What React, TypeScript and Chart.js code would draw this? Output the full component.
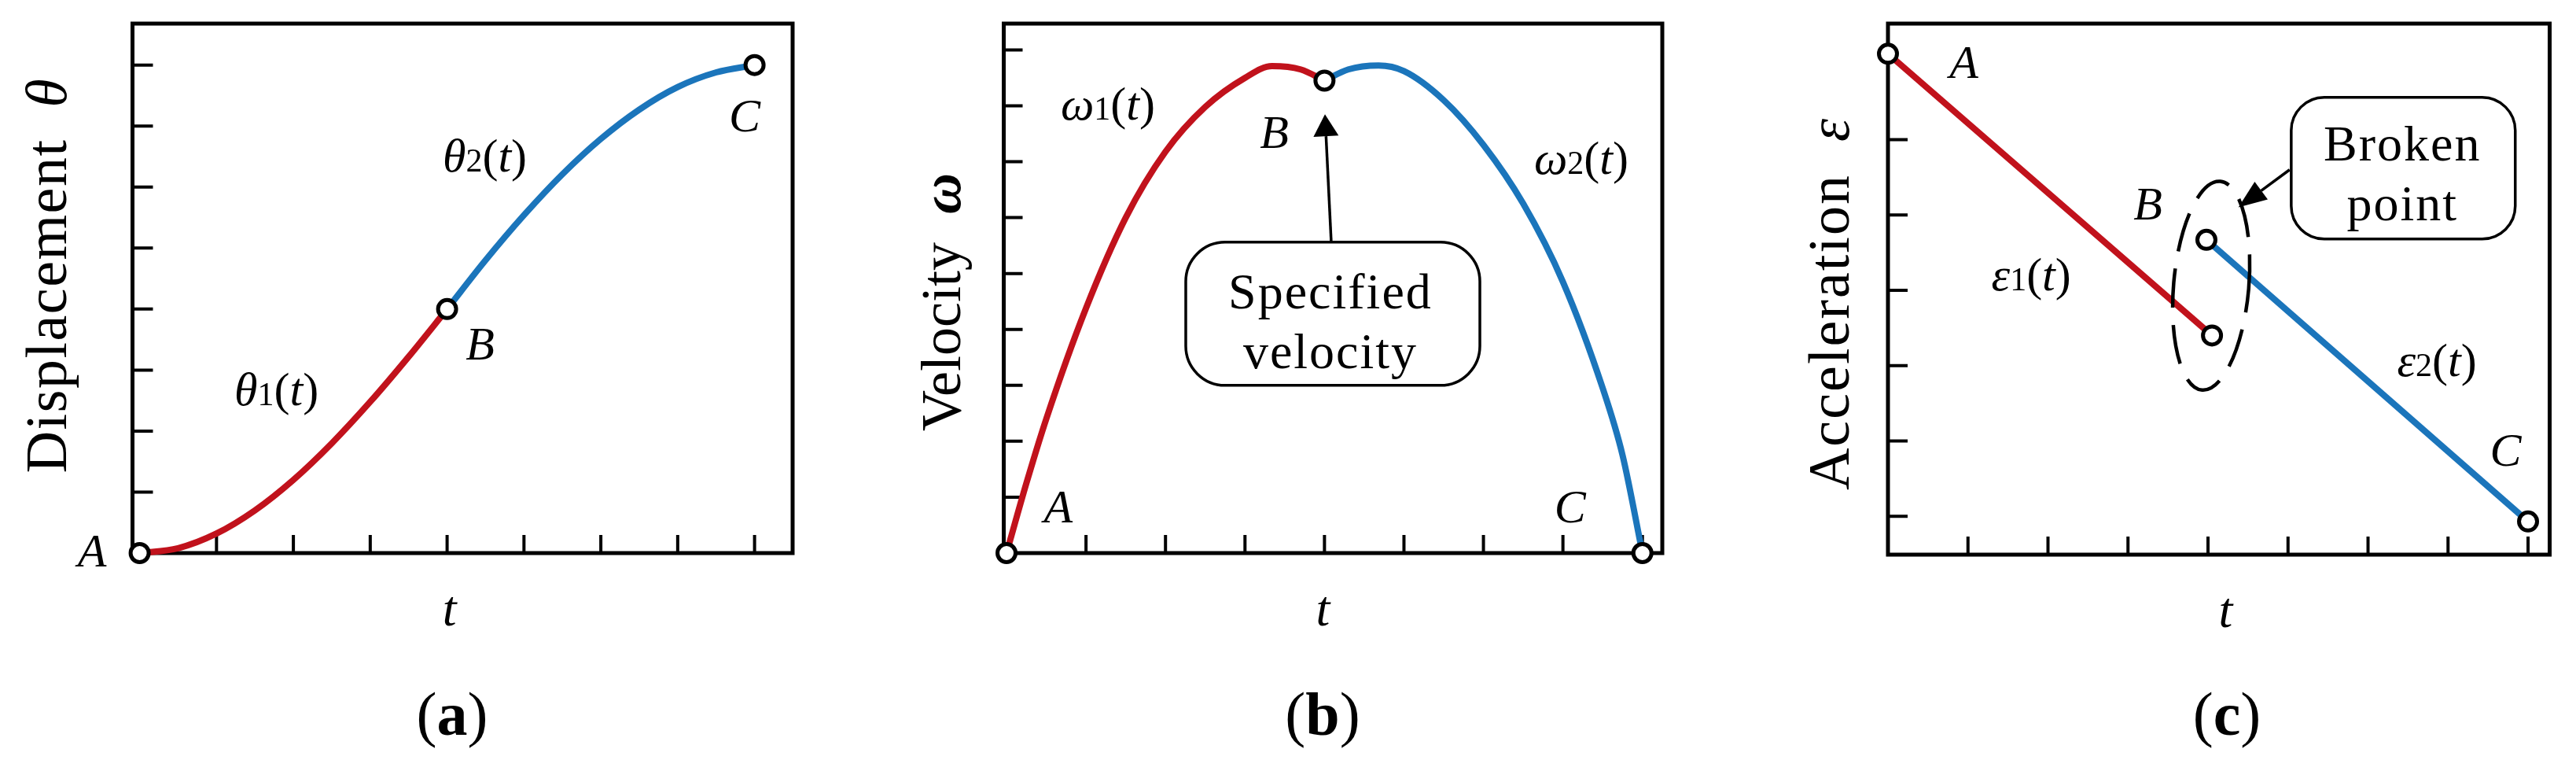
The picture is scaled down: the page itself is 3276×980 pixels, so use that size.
import React, { useEffect, useRef } from 'react';
import { Chart, registerables } from 'chart.js';

Chart.register(...registerables);

const SERIF = '"Liberation Serif", "Times New Roman", serif';
const RED = '#C1121C';
const BLUE = '#1B75BB';

// ---------- Panel (a): displacement ----------
const dispT1 = [0, 0.5, 1, 1.5, 2, 2.5, 3, 3.5, 4];
const dispTheta1 = [0, 0.08, 0.32, 0.7, 1.2, 1.8, 2.48, 3.22, 4];
const dispT2 = [4, 4.5, 5, 5.5, 6, 6.5, 7, 7.5, 8];
const dispTheta2 = [4, 4.8, 5.54, 6.21, 6.79, 7.27, 7.64, 7.88, 8];
const dispKeyT = [0, 4, 8];
const dispKeyV = [0, 4, 8];
const dispTicksX = [1, 2, 3, 4, 5, 6, 7, 8];
const dispTicksY = [1, 2, 3, 4, 5, 6, 7, 8];

// ---------- Panel (b): velocity ----------
const velT1 = [0, 0.25, 0.5, 1, 1.5, 2, 2.5, 3, 3.34, 3.7, 4];
const velW1 = [0, 1.25, 2.4, 4.38, 6.0, 7.18, 7.98, 8.5, 8.71, 8.65, 8.45];
const velT2 = [4, 4.3, 4.68, 5, 5.5, 6, 6.5, 7, 7.5, 7.75, 8];
const velW2 = [8.45, 8.65, 8.72, 8.62, 8.1, 7.3, 6.25, 4.85, 2.95, 1.75, 0];
const velKeyT = [0, 4, 8];
const velKeyV = [0, 8.45, 0];
const velTicksX = [1, 2, 3, 4, 5, 6, 7, 8];
const velTicksY = [1, 2, 3, 4, 5, 6, 7, 8, 9];

// ---------- Panel (c): acceleration ----------
const accT1 = [0, 4.05];
const accE1 = [7.14, 3.4];
const accT2 = [3.98, 8];
const accE2 = [4.67, 0.93];
const accKeyT = [0, 3.98, 4.05, 8];
const accKeyV = [7.14, 4.67, 3.4, 0.93];
const accTicksX = [1, 2, 3, 4, 5, 6, 7, 8];
const accTicksY = [1, 2, 3, 4, 5, 6];

type Part = { s: string; f: string };
const it = (px: number) => `italic ${px}px ${SERIF}`;
const rg = (px: number) => `${px}px ${SERIF}`;
const bd = (px: number) => `bold ${px}px ${SERIF}`;
const bi = (px: number) => `bold italic ${px}px ${SERIF}`;

const LBL = 60;
const SUB = 42;
const fnLabel = (g: string, n: string): Part[] => [
  { s: g, f: it(LBL) },
  { s: n, f: rg(SUB) },
  { s: '(', f: rg(LBL) },
  { s: 't', f: it(LBL) },
  { s: ')', f: rg(LBL) },
];
const letter = (c: string): Part[] => [{ s: c, f: it(LBL) }];

function drawParts(ctx: CanvasRenderingContext2D, parts: Part[], x: number, baseline: number, ls = 0) {
  (ctx as any).letterSpacing = `${ls}px`;
  const widths = parts.map((p) => {
    ctx.font = p.f;
    return ctx.measureText(p.s).width;
  });
  const total = widths.reduce((a, b) => a + b, 0);
  let cx = x - total / 2;
  ctx.textAlign = 'left';
  ctx.textBaseline = 'alphabetic';
  parts.forEach((p, i) => {
    ctx.font = p.f;
    ctx.fillText(p.s, cx, baseline);
    cx += widths[i];
  });
  (ctx as any).letterSpacing = '0px';
}

type Label = { parts: Part[]; x: number; y: number; dy: number };
type Callout = {
  x0: number; x1: number; y0: number; y1: number; r: number;
  cx: number; lines: { s: string; y: number }[];
  from: [number, number]; to: [number, number]; headLen: number; headW: number;
};
type Spec = {
  ticksX: number[]; ticksY: number[]; tickLenX: number; tickLenY: number;
  labels: Label[];
  title: { parts: Part[]; x: number; y: number; ls: number };
  tLabelX: number;
  letterX: number; letter: string;
  callout?: Callout;
  ellipse?: { cx: number; cy: number; rx: number; ry: number; rot: number };
};

function decor(spec: Spec) {
  return {
    id: 'decor',
    beforeDatasetsDraw(chart: any) {
      const { ctx, chartArea: ca, scales } = chart;
      const x = scales.x, y = scales.y;
      ctx.save();
      ctx.strokeStyle = '#000';
      ctx.lineWidth = 4;
      ctx.beginPath();
      spec.ticksX.forEach((v) => {
        const px = x.getPixelForValue(v);
        ctx.moveTo(px, ca.bottom);
        ctx.lineTo(px, ca.bottom - spec.tickLenX);
      });
      spec.ticksY.forEach((v) => {
        const py = y.getPixelForValue(v);
        ctx.moveTo(ca.left, py);
        ctx.lineTo(ca.left + spec.tickLenY, py);
      });
      ctx.stroke();
      ctx.lineWidth = 5;
      ctx.strokeRect(ca.left, ca.top, ca.right - ca.left, ca.bottom - ca.top);
      ctx.restore();
    },
    afterDatasetsDraw(chart: any) {
      const { ctx, chartArea: ca, scales } = chart;
      const x = scales.x, y = scales.y;
      ctx.save();
      ctx.fillStyle = '#000';
      ctx.strokeStyle = '#000';
      spec.labels.forEach((l) => {
        drawParts(ctx, l.parts, x.getPixelForValue(l.x), y.getPixelForValue(l.y) + l.dy);
      });
      // x axis title
      drawParts(ctx, [{ s: 't', f: it(64) }], x.getPixelForValue(spec.tLabelX), ca.bottom + 92);
      // panel letter
      drawParts(ctx, [{ s: '(', f: rg(78) }, { s: spec.letter, f: bd(78) }, { s: ')', f: rg(78) }], spec.letterX, 934);
      // y axis title (rotated)
      ctx.save();
      ctx.translate(spec.title.x, spec.title.y);
      ctx.rotate(-Math.PI / 2);
      drawParts(ctx, spec.title.parts, 0, 0, spec.title.ls);
      ctx.restore();

      if (spec.ellipse) {
        const e = spec.ellipse;
        const cx = x.getPixelForValue(e.cx), cy = y.getPixelForValue(e.cy);
        const rx = Math.abs(x.getPixelForValue(e.cx + e.rx) - cx);
        const ry = Math.abs(y.getPixelForValue(e.cy + e.ry) - cy);
        ctx.save();
        ctx.lineWidth = 4.5;
        ctx.setLineDash([50, 22]);
        ctx.lineDashOffset = 20;
        ctx.beginPath();
        ctx.ellipse(cx, cy, rx, ry, (e.rot * Math.PI) / 180, 0, Math.PI * 2);
        ctx.stroke();
        ctx.restore();
      }
      if (spec.callout) {
        const c = spec.callout;
        const bx0 = x.getPixelForValue(c.x0), bx1 = x.getPixelForValue(c.x1);
        const by0 = y.getPixelForValue(c.y0), by1 = y.getPixelForValue(c.y1);
        ctx.save();
        ctx.fillStyle = '#fff';
        ctx.lineWidth = 3.5;
        ctx.beginPath();
        ctx.roundRect(bx0, by0, bx1 - bx0, by1 - by0, c.r);
        ctx.fill();
        ctx.stroke();
        ctx.fillStyle = '#000';
        c.lines.forEach((ln) => {
          drawParts(ctx, [{ s: ln.s, f: rg(64) }], x.getPixelForValue(c.cx), y.getPixelForValue(ln.y), 2);
        });
        // arrow
        const fx = x.getPixelForValue(c.from[0]), fy = y.getPixelForValue(c.from[1]);
        const tx = x.getPixelForValue(c.to[0]), ty = y.getPixelForValue(c.to[1]);
        const ang = Math.atan2(ty - fy, tx - fx);
        const bxp = tx - Math.cos(ang) * c.headLen, byp = ty - Math.sin(ang) * c.headLen;
        ctx.lineWidth = 3.5;
        ctx.beginPath();
        ctx.moveTo(fx, fy);
        ctx.lineTo(bxp, byp);
        ctx.stroke();
        const nx = -Math.sin(ang), ny = Math.cos(ang);
        ctx.beginPath();
        ctx.moveTo(tx, ty);
        ctx.lineTo(bxp + (nx * c.headW) / 2, byp + (ny * c.headW) / 2);
        ctx.lineTo(bxp - (nx * c.headW) / 2, byp - (ny * c.headW) / 2);
        ctx.closePath();
        ctx.fill();
        ctx.restore();
      }
      ctx.restore();
    },
  };
}

const zip = (xs: number[], ys: number[]) => xs.map((v, i) => ({ x: v, y: ys[i] }));

function makeConfig(opts: {
  keyT: number[]; keyV: number[];
  t1: number[]; v1: number[]; t2: number[]; v2: number[];
  smooth: boolean;
  padding: { left: number; right: number; top: number; bottom: number };
  xMin: number; xMax: number; yMin: number; yMax: number;
  spec: Spec;
}): any {
  const lineDs = (xs: number[], ys: number[], color: string) => ({
    data: zip(xs, ys),
    borderColor: color,
    borderWidth: 8,
    pointRadius: 0,
    fill: false,
    tension: 0,
    cubicInterpolationMode: opts.smooth ? 'monotone' : 'default',
    clip: false,
  });
  return {
    type: 'line',
    data: {
      datasets: [
        {
          data: zip(opts.keyT, opts.keyV),
          showLine: false,
          pointRadius: 11.5,
          pointBorderWidth: 5,
          pointBackgroundColor: '#ffffff',
          pointBorderColor: '#000000',
          clip: false,
        },
        lineDs(opts.t1, opts.v1, RED),
        lineDs(opts.t2, opts.v2, BLUE),
      ],
    },
    options: {
      animation: false,
      responsive: false,
      devicePixelRatio: 1,
      events: [],
      layout: { padding: opts.padding },
      plugins: { legend: { display: false }, tooltip: { enabled: false }, title: { display: false } },
      scales: {
        x: { type: 'linear', min: opts.xMin, max: opts.xMax, display: false },
        y: { type: 'linear', min: opts.yMin, max: opts.yMax, display: false },
      },
    },
    plugins: [decor(opts.spec)],
  };
}

const configA = () =>
  makeConfig({
    keyT: dispKeyT, keyV: dispKeyV, t1: dispT1, v1: dispTheta1, t2: dispT2, v2: dispTheta2,
    smooth: true,
    padding: { left: 168.5, right: 84, top: 30, bottom: 277 },
    xMin: -0.093, xMax: 8.495, yMin: 0, yMax: 8.68,
    spec: {
      ticksX: dispTicksX, ticksY: dispTicksY, tickLenX: 23, tickLenY: 26,
      labels: [
        { parts: letter('A'), x: -0.62, y: 0.04, dy: 20 },
        { parts: letter('B'), x: 4.43, y: 3.43, dy: 20 },
        { parts: letter('C'), x: 7.87, y: 7.17, dy: 20 },
        { parts: fnLabel('θ', '1'), x: 1.78, y: 2.66, dy: 18 },
        { parts: fnLabel('θ', '2'), x: 4.49, y: 6.49, dy: 18 },
      ],
      title: { parts: [{ s: 'Displacement', f: rg(74) }, { s: '  ', f: rg(74) }, { s: 'θ', f: it(74) }], x: 84, y: 350, ls: 1.5 },
      tLabelX: 4.03,
      letterX: 575,
      letter: 'a',
    },
  });

const configB = () =>
  makeConfig({
    keyT: velKeyT, keyV: velKeyV, t1: velT1, v1: velW1, t2: velT2, v2: velW2,
    smooth: true,
    padding: { left: 184.5, right: 70, top: 30, bottom: 277 },
    xMin: -0.035, xMax: 8.25, yMin: 0, yMax: 9.47,
    spec: {
      ticksX: velTicksX, ticksY: velTicksY, tickLenX: 23, tickLenY: 24,
      labels: [
        { parts: letter('A'), x: 0.65, y: 0.83, dy: 20 },
        { parts: letter('B'), x: 3.37, y: 7.53, dy: 20 },
        { parts: letter('C'), x: 7.09, y: 0.83, dy: 20 },
        { parts: fnLabel('ω', '1'), x: 1.275, y: 8.0, dy: 18 },
        { parts: fnLabel('ω', '2'), x: 7.23, y: 7.03, dy: 18 },
      ],
      title: { parts: [{ s: 'Velocity', f: rg(72) }, { s: '  ', f: rg(72) }, { s: 'ω', f: bi(72) }], x: 129, y: 384, ls: 0 },
      tLabelX: 3.98,
      letterX: 590,
      letter: 'b',
      callout: {
        x0: 2.255, x1: 5.955, y0: 5.56, y1: 3.0, r: 50,
        cx: 4.075,
        lines: [
          { s: 'Specified', y: 4.38 },
          { s: 'velocity', y: 3.3 },
        ],
        from: [4.085, 5.56], to: [4.006, 7.85], headLen: 28, headW: 32,
      },
    },
  });

const configC = () =>
  makeConfig({
    keyT: accKeyT, keyV: accKeyV, t1: accT1, v1: accE1, t2: accT2, v2: accE2,
    smooth: false,
    padding: { left: 217, right: 33.5, top: 30, bottom: 275 },
    xMin: 0, xMax: 8.27, yMin: 0.49, yMax: 7.54,
    spec: {
      ticksX: accTicksX, ticksY: accTicksY, tickLenX: 23, tickLenY: 25,
      labels: [
        { parts: letter('A'), x: 0.95, y: 7.03, dy: 20 },
        { parts: letter('B'), x: 3.25, y: 5.15, dy: 20 },
        { parts: letter('C'), x: 7.72, y: 1.88, dy: 20 },
        { parts: fnLabel('ε', '1'), x: 1.79, y: 4.19, dy: 18 },
        { parts: fnLabel('ε', '2'), x: 6.86, y: 3.05, dy: 18 },
      ],
      title: { parts: [{ s: 'Acceleration', f: rg(74) }, { s: '  ', f: rg(74) }, { s: 'ε', f: it(74) }], x: 167, y: 386, ls: 2 },
      tLabelX: 4.22,
      letterX: 648,
      letter: 'c',
      ellipse: { cx: 4.04, cy: 4.06, rx: 0.47, ry: 1.39, rot: 5 },
      callout: {
        x0: 5.04, x1: 7.84, y0: 6.56, y1: 4.68, r: 42,
        cx: 6.43,
        lines: [
          { s: 'Broken', y: 5.72 },
          { s: 'point', y: 4.93 },
        ],
        from: [5.02, 5.6], to: [4.38, 5.1], headLen: 36, headW: 28,
      },
    },
  });

export default function App() {
  const refA = useRef<HTMLCanvasElement>(null);
  const refB = useRef<HTMLCanvasElement>(null);
  const refC = useRef<HTMLCanvasElement>(null);

  useEffect(() => {
    const charts: Chart[] = [];
    if (refA.current) charts.push(new Chart(refA.current, configA()));
    if (refB.current) charts.push(new Chart(refB.current, configB()));
    if (refC.current) charts.push(new Chart(refC.current, configC()));
    return () => charts.forEach((c) => c.destroy());
  }, []);

  const cs = (i: number): React.CSSProperties => ({
    position: 'absolute',
    left: i * 1092,
    top: 0,
    width: 1092,
    height: 980,
  });

  return (
    <div style={{ position: 'absolute', left: 0, top: 0, width: 3276, height: 980, background: '#fff' }}>
      <canvas ref={refA} width={1092} height={980} style={cs(0)} />
      <canvas ref={refB} width={1092} height={980} style={cs(1)} />
      <canvas ref={refC} width={1092} height={980} style={cs(2)} />
    </div>
  );
}
